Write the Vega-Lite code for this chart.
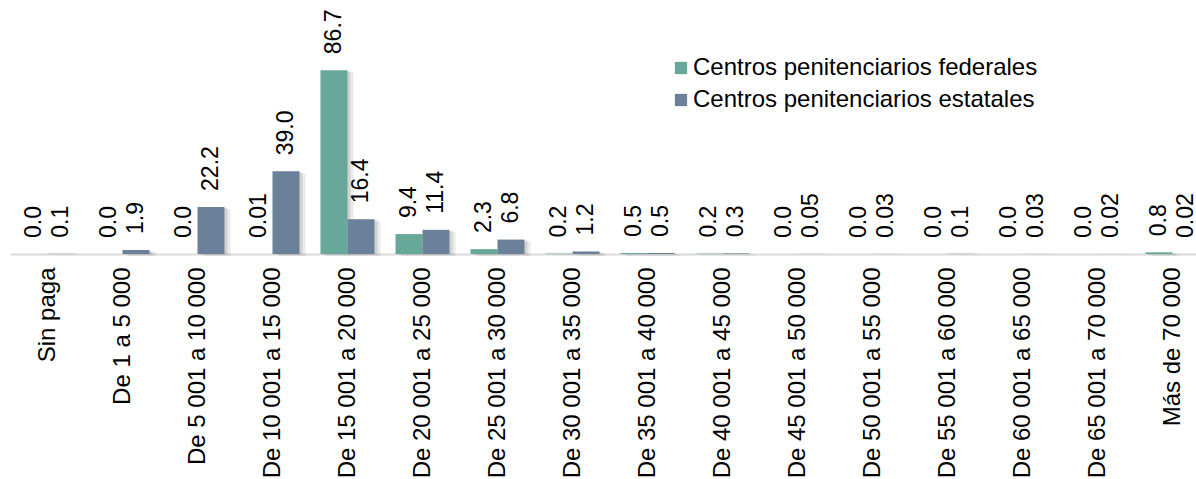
{
  "$schema": "https://vega.github.io/schema/vega-lite/v6.json",
  "autosize": "none",
  "width": 1186,
  "height": 212,
  "padding": {"left": 10, "top": 42, "right": 0, "bottom": 225},
  "background": "white",
  "title": {"text": "(Distribución porcentual)", "anchor": "start", "frame": "group", "dx": 420, "offset": 44, "baseline": "alphabetic", "fontSize": 23, "fontWeight": "normal", "font": "Liberation Sans", "color": "black"},
  "config": {"view": {"stroke": null}, "font": "Liberation Sans"},
  "data": {"values": [
    {"cat": "Sin paga", "serie": "Centros penitenciarios federales", "v": 0.0, "t": "0.0"},
    {"cat": "Sin paga", "serie": "Centros penitenciarios estatales", "v": 0.1, "t": "0.1"},
    {"cat": "De 1 a 5 000", "serie": "Centros penitenciarios federales", "v": 0.0, "t": "0.0"},
    {"cat": "De 1 a 5 000", "serie": "Centros penitenciarios estatales", "v": 1.9, "t": "1.9"},
    {"cat": "De 5 001 a 10 000", "serie": "Centros penitenciarios federales", "v": 0.0, "t": "0.0"},
    {"cat": "De 5 001 a 10 000", "serie": "Centros penitenciarios estatales", "v": 22.2, "t": "22.2"},
    {"cat": "De 10 001 a 15 000", "serie": "Centros penitenciarios federales", "v": 0.01, "t": "0.01"},
    {"cat": "De 10 001 a 15 000", "serie": "Centros penitenciarios estatales", "v": 39.0, "t": "39.0"},
    {"cat": "De 15 001 a 20 000", "serie": "Centros penitenciarios federales", "v": 86.7, "t": "86.7"},
    {"cat": "De 15 001 a 20 000", "serie": "Centros penitenciarios estatales", "v": 16.4, "t": "16.4"},
    {"cat": "De 20 001 a 25 000", "serie": "Centros penitenciarios federales", "v": 9.4, "t": "9.4"},
    {"cat": "De 20 001 a 25 000", "serie": "Centros penitenciarios estatales", "v": 11.4, "t": "11.4"},
    {"cat": "De 25 001 a 30 000", "serie": "Centros penitenciarios federales", "v": 2.3, "t": "2.3"},
    {"cat": "De 25 001 a 30 000", "serie": "Centros penitenciarios estatales", "v": 6.8, "t": "6.8"},
    {"cat": "De 30 001 a 35 000", "serie": "Centros penitenciarios federales", "v": 0.2, "t": "0.2"},
    {"cat": "De 30 001 a 35 000", "serie": "Centros penitenciarios estatales", "v": 1.2, "t": "1.2"},
    {"cat": "De 35 001 a 40 000", "serie": "Centros penitenciarios federales", "v": 0.5, "t": "0.5"},
    {"cat": "De 35 001 a 40 000", "serie": "Centros penitenciarios estatales", "v": 0.5, "t": "0.5"},
    {"cat": "De 40 001 a 45 000", "serie": "Centros penitenciarios federales", "v": 0.2, "t": "0.2"},
    {"cat": "De 40 001 a 45 000", "serie": "Centros penitenciarios estatales", "v": 0.3, "t": "0.3"},
    {"cat": "De 45 001 a 50 000", "serie": "Centros penitenciarios federales", "v": 0.0, "t": "0.0"},
    {"cat": "De 45 001 a 50 000", "serie": "Centros penitenciarios estatales", "v": 0.05, "t": "0.05"},
    {"cat": "De 50 001 a 55 000", "serie": "Centros penitenciarios federales", "v": 0.0, "t": "0.0"},
    {"cat": "De 50 001 a 55 000", "serie": "Centros penitenciarios estatales", "v": 0.03, "t": "0.03"},
    {"cat": "De 55 001 a 60 000", "serie": "Centros penitenciarios federales", "v": 0.0, "t": "0.0"},
    {"cat": "De 55 001 a 60 000", "serie": "Centros penitenciarios estatales", "v": 0.1, "t": "0.1"},
    {"cat": "De 60 001 a 65 000", "serie": "Centros penitenciarios federales", "v": 0.0, "t": "0.0"},
    {"cat": "De 60 001 a 65 000", "serie": "Centros penitenciarios estatales", "v": 0.03, "t": "0.03"},
    {"cat": "De 65 001 a 70 000", "serie": "Centros penitenciarios federales", "v": 0.0, "t": "0.0"},
    {"cat": "De 65 001 a 70 000", "serie": "Centros penitenciarios estatales", "v": 0.02, "t": "0.02"},
    {"cat": "Más de 70 000", "serie": "Centros penitenciarios federales", "v": 0.8, "t": "0.8"},
    {"cat": "Más de 70 000", "serie": "Centros penitenciarios estatales", "v": 0.02, "t": "0.02"}
  ]},
  "encoding": {
    "x": {"field": "cat", "type": "nominal", "sort": null,
      "scale": {"range": [0, 1200], "paddingInner": 0.28, "paddingOuter": 0.14},
      "axis": {"title": null, "labelAngle": 270, "labelAlign": "right", "labelBaseline": "middle", "labelFontSize": 24, "labelColor": "black", "labelFont": "Liberation Sans", "labelLimit": 400, "ticks": false, "tickSize": 0, "labelPadding": 13, "domainColor": "#d9d9d9", "domainWidth": 2}},
    "y": {"field": "v", "type": "quantitative", "scale": {"domain": [0, 100]}, "axis": null}
  },
  "layer": [
    {"mark": {"type": "bar", "color": "#8c8c8c", "opacity": 0.18, "yOffset": 2},
      "encoding": {"xOffset": {"field": "serie", "type": "nominal", "sort": ["Centros penitenciarios federales", "Centros penitenciarios estatales"], "scale": {"range": [6, 60]}}}},
    {"mark": {"type": "bar", "color": "#8c8c8c", "opacity": 0.25, "yOffset": 1},
      "encoding": {"xOffset": {"field": "serie", "type": "nominal", "sort": ["Centros penitenciarios federales", "Centros penitenciarios estatales"], "scale": {"range": [3, 57]}}}},
    {"mark": {"type": "bar"},
      "encoding": {
        "xOffset": {"field": "serie", "type": "nominal", "sort": ["Centros penitenciarios federales", "Centros penitenciarios estatales"], "scale": {"range": [0, 54]}},
        "color": {"field": "serie", "type": "nominal", "sort": ["Centros penitenciarios federales", "Centros penitenciarios estatales"],
        "scale": {"domain": ["Centros penitenciarios federales", "Centros penitenciarios estatales"], "range": ["#67a89b", "#6b8099"]},
        "legend": {"title": null, "orient": "none", "legendX": 659, "legendY": 14, "symbolType": "square", "symbolSize": 150, "symbolStrokeWidth": 0, "symbolOpacity": 1, "labelFontSize": 24, "labelFont": "Liberation Sans", "labelColor": "black", "labelOffset": 0, "rowPadding": 8, "padding": 0, "labelLimit": 500}}}},
    {"mark": {"type": "text", "angle": 270, "align": "left", "baseline": "middle", "dx": 16, "fontSize": 23, "font": "Liberation Sans", "color": "black"},
      "encoding": {
        "xOffset": {"field": "serie", "type": "nominal", "sort": ["Centros penitenciarios federales", "Centros penitenciarios estatales"], "scale": {"range": [0, 54]}},
        "text": {"field": "t"}}}
  ],
  "resolve": {"scale": {"xOffset": "independent", "color": "shared"}}
}
